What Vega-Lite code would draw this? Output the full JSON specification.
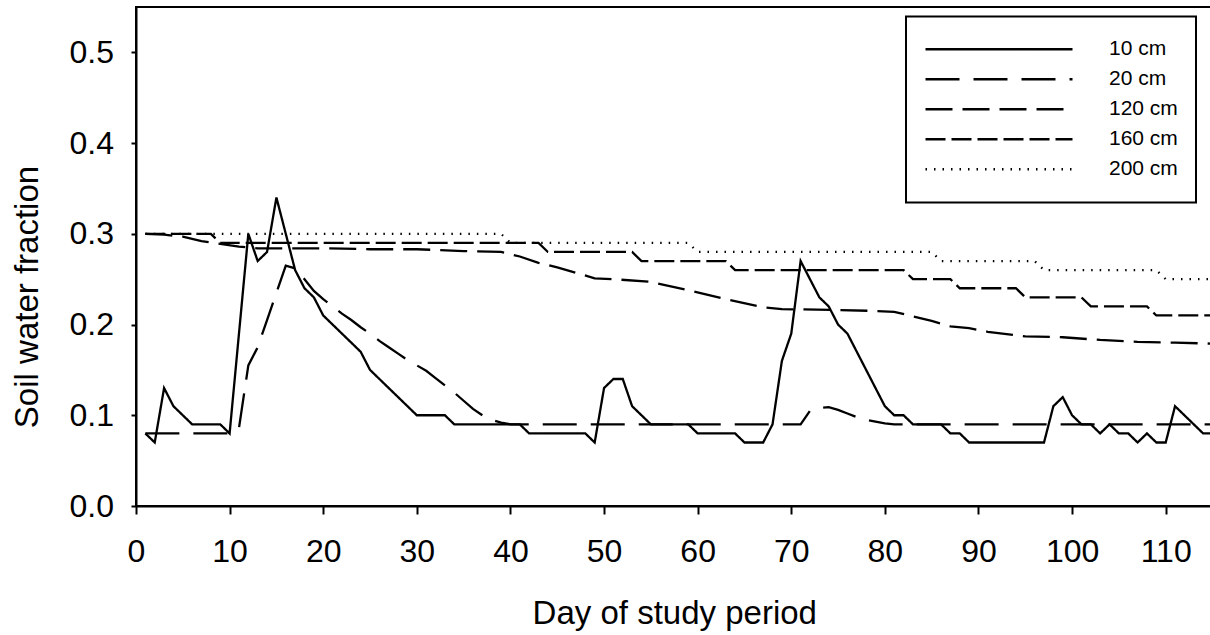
{
  "$schema": "https://vega.github.io/schema/vega-lite/v6.json",
  "width": 1076.5,
  "height": 499,
  "autosize": {"type": "none"},
  "padding": {"left": 136, "top": 7, "right": -2.5, "bottom": 129},
  "background": "white",
  "config": {
    "font": "Liberation Sans",
    "view": {"stroke": "black", "strokeWidth": 2},
    "axis": {"grid": false, "domainColor": "black", "domainWidth": 2, "tickColor": "black", "tickWidth": 2, "labelColor": "black", "titleColor": "black", "titleFontWeight": "normal", "labelFont": "Liberation Sans", "titleFont": "Liberation Sans"},
    "legend": {"strokeWidth": 2}
  },
  "data": {"values": [
    {"day":1,"value":0.08,"depth":"10 cm"},{"day":2,"value":0.07,"depth":"10 cm"},{"day":3,"value":0.13,"depth":"10 cm"},{"day":4,"value":0.11,"depth":"10 cm"},{"day":5,"value":0.10,"depth":"10 cm"},{"day":6,"value":0.09,"depth":"10 cm"},{"day":7,"value":0.09,"depth":"10 cm"},{"day":8,"value":0.09,"depth":"10 cm"},{"day":9,"value":0.09,"depth":"10 cm"},{"day":10,"value":0.08,"depth":"10 cm"},
    {"day":11,"value":0.19,"depth":"10 cm"},{"day":12,"value":0.30,"depth":"10 cm"},{"day":13,"value":0.27,"depth":"10 cm"},{"day":14,"value":0.28,"depth":"10 cm"},{"day":15,"value":0.34,"depth":"10 cm"},{"day":16,"value":0.30,"depth":"10 cm"},{"day":17,"value":0.26,"depth":"10 cm"},{"day":18,"value":0.24,"depth":"10 cm"},{"day":19,"value":0.23,"depth":"10 cm"},{"day":20,"value":0.21,"depth":"10 cm"},
    {"day":21,"value":0.20,"depth":"10 cm"},{"day":22,"value":0.19,"depth":"10 cm"},{"day":23,"value":0.18,"depth":"10 cm"},{"day":24,"value":0.17,"depth":"10 cm"},{"day":25,"value":0.15,"depth":"10 cm"},{"day":26,"value":0.14,"depth":"10 cm"},{"day":27,"value":0.13,"depth":"10 cm"},{"day":28,"value":0.12,"depth":"10 cm"},{"day":29,"value":0.11,"depth":"10 cm"},{"day":30,"value":0.10,"depth":"10 cm"},
    {"day":31,"value":0.10,"depth":"10 cm"},{"day":32,"value":0.10,"depth":"10 cm"},{"day":33,"value":0.10,"depth":"10 cm"},{"day":34,"value":0.09,"depth":"10 cm"},{"day":35,"value":0.09,"depth":"10 cm"},{"day":36,"value":0.09,"depth":"10 cm"},{"day":37,"value":0.09,"depth":"10 cm"},{"day":38,"value":0.09,"depth":"10 cm"},{"day":39,"value":0.09,"depth":"10 cm"},{"day":40,"value":0.09,"depth":"10 cm"},
    {"day":41,"value":0.09,"depth":"10 cm"},{"day":42,"value":0.08,"depth":"10 cm"},{"day":43,"value":0.08,"depth":"10 cm"},{"day":44,"value":0.08,"depth":"10 cm"},{"day":45,"value":0.08,"depth":"10 cm"},{"day":46,"value":0.08,"depth":"10 cm"},{"day":47,"value":0.08,"depth":"10 cm"},{"day":48,"value":0.08,"depth":"10 cm"},{"day":49,"value":0.07,"depth":"10 cm"},{"day":50,"value":0.13,"depth":"10 cm"},
    {"day":51,"value":0.14,"depth":"10 cm"},{"day":52,"value":0.14,"depth":"10 cm"},{"day":53,"value":0.11,"depth":"10 cm"},{"day":54,"value":0.10,"depth":"10 cm"},{"day":55,"value":0.09,"depth":"10 cm"},{"day":56,"value":0.09,"depth":"10 cm"},{"day":57,"value":0.09,"depth":"10 cm"},{"day":58,"value":0.09,"depth":"10 cm"},{"day":59,"value":0.09,"depth":"10 cm"},{"day":60,"value":0.08,"depth":"10 cm"},
    {"day":61,"value":0.08,"depth":"10 cm"},{"day":62,"value":0.08,"depth":"10 cm"},{"day":63,"value":0.08,"depth":"10 cm"},{"day":64,"value":0.08,"depth":"10 cm"},{"day":65,"value":0.07,"depth":"10 cm"},{"day":66,"value":0.07,"depth":"10 cm"},{"day":67,"value":0.07,"depth":"10 cm"},{"day":68,"value":0.09,"depth":"10 cm"},{"day":69,"value":0.16,"depth":"10 cm"},{"day":70,"value":0.19,"depth":"10 cm"},
    {"day":71,"value":0.27,"depth":"10 cm"},{"day":72,"value":0.25,"depth":"10 cm"},{"day":73,"value":0.23,"depth":"10 cm"},{"day":74,"value":0.22,"depth":"10 cm"},{"day":75,"value":0.20,"depth":"10 cm"},{"day":76,"value":0.19,"depth":"10 cm"},{"day":77,"value":0.17,"depth":"10 cm"},{"day":78,"value":0.15,"depth":"10 cm"},{"day":79,"value":0.13,"depth":"10 cm"},{"day":80,"value":0.11,"depth":"10 cm"},
    {"day":81,"value":0.10,"depth":"10 cm"},{"day":82,"value":0.10,"depth":"10 cm"},{"day":83,"value":0.09,"depth":"10 cm"},{"day":84,"value":0.09,"depth":"10 cm"},{"day":85,"value":0.09,"depth":"10 cm"},{"day":86,"value":0.09,"depth":"10 cm"},{"day":87,"value":0.08,"depth":"10 cm"},{"day":88,"value":0.08,"depth":"10 cm"},{"day":89,"value":0.07,"depth":"10 cm"},{"day":90,"value":0.07,"depth":"10 cm"},
    {"day":91,"value":0.07,"depth":"10 cm"},{"day":92,"value":0.07,"depth":"10 cm"},{"day":93,"value":0.07,"depth":"10 cm"},{"day":94,"value":0.07,"depth":"10 cm"},{"day":95,"value":0.07,"depth":"10 cm"},{"day":96,"value":0.07,"depth":"10 cm"},{"day":97,"value":0.07,"depth":"10 cm"},{"day":98,"value":0.11,"depth":"10 cm"},{"day":99,"value":0.12,"depth":"10 cm"},{"day":100,"value":0.10,"depth":"10 cm"},
    {"day":101,"value":0.09,"depth":"10 cm"},{"day":102,"value":0.09,"depth":"10 cm"},{"day":103,"value":0.08,"depth":"10 cm"},{"day":104,"value":0.09,"depth":"10 cm"},{"day":105,"value":0.08,"depth":"10 cm"},{"day":106,"value":0.08,"depth":"10 cm"},{"day":107,"value":0.07,"depth":"10 cm"},{"day":108,"value":0.08,"depth":"10 cm"},{"day":109,"value":0.07,"depth":"10 cm"},{"day":110,"value":0.07,"depth":"10 cm"},
    {"day":111,"value":0.11,"depth":"10 cm"},{"day":112,"value":0.10,"depth":"10 cm"},{"day":113,"value":0.09,"depth":"10 cm"},{"day":114,"value":0.08,"depth":"10 cm"},{"day":115,"value":0.08,"depth":"10 cm"},

    {"day":1,"value":0.08,"depth":"20 cm"},{"day":10,"value":0.08,"depth":"20 cm"},{"day":11,"value":0.086,"depth":"20 cm"},{"day":12,"value":0.155,"depth":"20 cm"},{"day":13,"value":0.175,"depth":"20 cm"},{"day":14,"value":0.205,"depth":"20 cm"},{"day":15,"value":0.235,"depth":"20 cm"},{"day":16,"value":0.265,"depth":"20 cm"},{"day":17,"value":0.262,"depth":"20 cm"},{"day":18,"value":0.25,"depth":"20 cm"},
    {"day":19,"value":0.237,"depth":"20 cm"},{"day":20,"value":0.228,"depth":"20 cm"},{"day":21,"value":0.22,"depth":"20 cm"},{"day":22,"value":0.212,"depth":"20 cm"},{"day":23,"value":0.205,"depth":"20 cm"},{"day":24,"value":0.197,"depth":"20 cm"},{"day":25,"value":0.19,"depth":"20 cm"},{"day":26,"value":0.182,"depth":"20 cm"},{"day":27,"value":0.175,"depth":"20 cm"},{"day":28,"value":0.168,"depth":"20 cm"},
    {"day":29,"value":0.161,"depth":"20 cm"},{"day":30,"value":0.155,"depth":"20 cm"},{"day":31,"value":0.149,"depth":"20 cm"},{"day":32,"value":0.141,"depth":"20 cm"},{"day":33,"value":0.133,"depth":"20 cm"},{"day":34,"value":0.125,"depth":"20 cm"},{"day":35,"value":0.116,"depth":"20 cm"},{"day":36,"value":0.107,"depth":"20 cm"},{"day":37,"value":0.10,"depth":"20 cm"},{"day":38,"value":0.095,"depth":"20 cm"},
    {"day":39,"value":0.092,"depth":"20 cm"},{"day":40,"value":0.09,"depth":"20 cm"},{"day":50,"value":0.09,"depth":"20 cm"},{"day":60,"value":0.09,"depth":"20 cm"},{"day":71,"value":0.09,"depth":"20 cm"},{"day":72,"value":0.105,"depth":"20 cm"},{"day":73,"value":0.108,"depth":"20 cm"},{"day":74,"value":0.109,"depth":"20 cm"},{"day":75,"value":0.106,"depth":"20 cm"},{"day":76,"value":0.102,"depth":"20 cm"},
    {"day":77,"value":0.098,"depth":"20 cm"},{"day":78,"value":0.095,"depth":"20 cm"},{"day":79,"value":0.093,"depth":"20 cm"},{"day":80,"value":0.091,"depth":"20 cm"},{"day":81,"value":0.09,"depth":"20 cm"},{"day":90,"value":0.09,"depth":"20 cm"},{"day":100,"value":0.09,"depth":"20 cm"},{"day":115,"value":0.09,"depth":"20 cm"},

    {"day":1,"value":0.300,"depth":"120 cm"},{"day":3,"value":0.299,"depth":"120 cm"},{"day":5,"value":0.297,"depth":"120 cm"},{"day":7,"value":0.292,"depth":"120 cm"},{"day":9,"value":0.289,"depth":"120 cm"},{"day":11,"value":0.286,"depth":"120 cm"},{"day":13,"value":0.284,"depth":"120 cm"},{"day":20,"value":0.284,"depth":"120 cm"},{"day":25,"value":0.283,"depth":"120 cm"},{"day":30,"value":0.283,"depth":"120 cm"},
    {"day":35,"value":0.281,"depth":"120 cm"},{"day":39,"value":0.280,"depth":"120 cm"},{"day":41,"value":0.275,"depth":"120 cm"},{"day":43,"value":0.268,"depth":"120 cm"},{"day":45,"value":0.263,"depth":"120 cm"},{"day":47,"value":0.257,"depth":"120 cm"},{"day":49,"value":0.251,"depth":"120 cm"},{"day":51,"value":0.250,"depth":"120 cm"},{"day":55,"value":0.247,"depth":"120 cm"},{"day":59,"value":0.238,"depth":"120 cm"},
    {"day":63,"value":0.228,"depth":"120 cm"},{"day":67,"value":0.219,"depth":"120 cm"},{"day":69,"value":0.217,"depth":"120 cm"},{"day":75,"value":0.216,"depth":"120 cm"},{"day":79,"value":0.215,"depth":"120 cm"},{"day":81,"value":0.214,"depth":"120 cm"},{"day":83,"value":0.209,"depth":"120 cm"},{"day":85,"value":0.204,"depth":"120 cm"},{"day":87,"value":0.198,"depth":"120 cm"},{"day":89,"value":0.196,"depth":"120 cm"},
    {"day":91,"value":0.192,"depth":"120 cm"},{"day":95,"value":0.187,"depth":"120 cm"},{"day":99,"value":0.186,"depth":"120 cm"},{"day":103,"value":0.183,"depth":"120 cm"},{"day":107,"value":0.181,"depth":"120 cm"},{"day":111,"value":0.180,"depth":"120 cm"},{"day":115,"value":0.179,"depth":"120 cm"},

    {"day":1,"value":0.30,"depth":"160 cm"},{"day":8,"value":0.30,"depth":"160 cm"},{"day":9,"value":0.29,"depth":"160 cm"},{"day":43,"value":0.29,"depth":"160 cm"},{"day":44,"value":0.28,"depth":"160 cm"},{"day":53,"value":0.28,"depth":"160 cm"},{"day":54,"value":0.27,"depth":"160 cm"},{"day":63,"value":0.27,"depth":"160 cm"},{"day":64,"value":0.26,"depth":"160 cm"},{"day":82,"value":0.26,"depth":"160 cm"},
    {"day":83,"value":0.25,"depth":"160 cm"},{"day":87,"value":0.25,"depth":"160 cm"},{"day":88,"value":0.24,"depth":"160 cm"},{"day":94,"value":0.24,"depth":"160 cm"},{"day":95,"value":0.23,"depth":"160 cm"},{"day":101,"value":0.23,"depth":"160 cm"},{"day":102,"value":0.22,"depth":"160 cm"},{"day":108,"value":0.22,"depth":"160 cm"},{"day":109,"value":0.21,"depth":"160 cm"},{"day":115,"value":0.21,"depth":"160 cm"},

    {"day":1,"value":0.30,"depth":"200 cm"},{"day":39,"value":0.30,"depth":"200 cm"},{"day":40,"value":0.29,"depth":"200 cm"},{"day":59,"value":0.29,"depth":"200 cm"},{"day":60,"value":0.28,"depth":"200 cm"},{"day":85,"value":0.28,"depth":"200 cm"},{"day":86,"value":0.27,"depth":"200 cm"},{"day":96,"value":0.27,"depth":"200 cm"},{"day":97,"value":0.26,"depth":"200 cm"},{"day":109,"value":0.26,"depth":"200 cm"},
    {"day":110,"value":0.25,"depth":"200 cm"},{"day":115,"value":0.25,"depth":"200 cm"}
  ]},
  "mark": {"type": "line", "color": "black", "clip": true},
  "encoding": {
    "x": {
      "field": "day", "type": "quantitative",
      "scale": {"domain": [0, 115], "nice": false, "zero": false},
      "axis": {
        "title": "Day of study period",
        "values": [0, 10, 20, 30, 40, 50, 60, 70, 80, 90, 100, 110],
        "format": "d",
        "tickSize": 8,
        "labelFontSize": 32,
        "labelBaseline": "alphabetic",
        "labelPadding": 47.5,
        "labelFlush": false,
        "labelOverlap": false,
        "titleFontSize": 33,
        "titleBaseline": "alphabetic",
        "titleY": 117
      }
    },
    "y": {
      "field": "value", "type": "quantitative",
      "scale": {"domain": [0, 0.55], "nice": false},
      "axis": {
        "title": "Soil water fraction",
        "values": [0, 0.1, 0.2, 0.3, 0.4, 0.5],
        "format": ".1f",
        "tickSize": 5,
        "labelFontSize": 32,
        "labelPadding": 17.5,
        "labelFlush": false,
        "labelOverlap": false,
        "titleFontSize": 33,
        "titleAngle": 270,
        "titleAlign": "center",
        "titleBaseline": "alphabetic",
        "titleX": -99,
        "titleY": 289.5
      }
    },
    "strokeDash": {
      "field": "depth", "type": "nominal",
      "scale": {
        "domain": ["10 cm", "20 cm", "120 cm", "160 cm", "200 cm"],
        "range": [[1, 0], [34, 14], [27, 10], [20, 6], [1.5, 7]]
      },
      "legend": {
        "title": null,
        "orient": "none",
        "legendX": 770,
        "legendY": 9.5,
        "symbolType": "stroke",
        "symbolSize": 21609,
        "symbolStrokeWidth": 2.8,
        "symbolStrokeColor": "black",
        "labelFontSize": 21,
        "labelFont": "Liberation Sans",
        "labelColor": "black",
        "labelOffset": 35,
        "clipHeight": 29.5,
        "rowPadding": 0,
        "padding": 18,
        "strokeColor": "black",
        "fillColor": "white"
      }
    },
    "strokeWidth": {
      "field": "depth", "type": "nominal",
      "scale": {
        "domain": ["10 cm", "20 cm", "120 cm", "160 cm", "200 cm"],
        "range": [2.3, 2.3, 2.3, 2.3, 1.2]
      },
      "legend": null
    }
  }
}
